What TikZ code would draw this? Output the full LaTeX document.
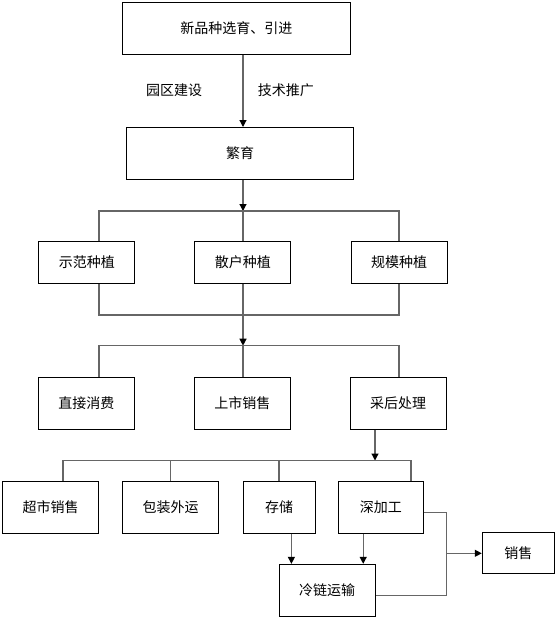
\documentclass[tikz,border=0pt]{standalone}
\usepackage{fontspec}
\setmainfont{Noto Sans CJK SC}
\usetikzlibrary{arrows.meta, positioning}

\begin{document}
\begin{tikzpicture}[
    x=1pt, y=-1pt,
    box/.style={draw, line width=1pt, align=center, inner sep=0pt, minimum width=96pt, minimum height=52pt, font=\fontsize{14pt}{16pt}\selectfont},
    note/.style={inner sep=0pt, font=\fontsize{14pt}{16pt}\selectfont},
    link/.style={draw=black!60, line width=1.2pt},
    flow/.style={link, -{Triangle[length=7pt, width=7pt, color=black]}}
]
\useasboundingbox (0,0) rectangle (559,621);

\node[box, minimum width=228pt] (sel) at (236.4,28.3) {新品种选育、引进};
\node[box, minimum width=226.6pt] (fanyu) at (240,153.5) {繁育};
\node[note] (yuanqu) at (174.2,90) {园区建设};
\node[note] (jishu) at (285.8,90) {技术推广};

\node[box, minimum height=42pt] (shifan) at (86.8,262.3) {示范种植};
\node[box, minimum height=42pt] (sanhu) at (242.8,262.3) {散户种植};
\node[box, minimum height=42pt] (guimo) at (399,262.3) {规模种植};

\node[box] (zhijie) at (86.3,403.3) {直接消费};
\node[box] (shangshi) at (242.3,403.3) {上市销售};
\node[box] (caihou) at (398.2,403.3) {采后处理};

\node[box] (chaoshi) at (50.7,507.3) {超市销售};
\node[box] (baozhuang) at (170.5,507.3) {包装外运};
\node[box, minimum width=72pt] (cunchu) at (279,507.3) {存储};
\node[box, minimum width=84.6pt] (shenjia) at (380.9,507.3) {深加工};
\node[box, minimum height=51.7pt] (lenglian) at (327,590.2) {冷链运输};
\node[box, minimum width=72pt, minimum height=41pt] (xiaoshou) at (518.3,553.3) {销售};

\coordinate (bus1l) at (99,211);
\coordinate (bus1) at (243,211);
\coordinate (bus1r) at (399,211);
\coordinate (bus2l) at (99,315);
\coordinate (bus2) at (243,315);
\coordinate (bus2r) at (399,315);
\coordinate (bus3l) at (99,345.7);
\coordinate (bus3) at (243,345.7);
\coordinate (bus3r) at (399,345.7);
\coordinate (bus4l) at (63,460.5);
\coordinate (bus4) at (375,460.5);
\coordinate (bus4r) at (411,460.5);
\coordinate (jn) at (446.7,553.3);

\draw[flow] (sel.south -| bus1) -- (fanyu.north -| bus1);

\draw[flow] (fanyu.south -| bus1) -- (bus1);
\draw[link] (shifan.north -| bus1l) |- (bus1r) -- (guimo.north -| bus1r);
\draw[link] (bus1) -- (sanhu.north -| bus1);

\draw[link] (shifan.south -| bus2l) |- (bus2r) -- (guimo.south -| bus2r);
\draw[flow] (sanhu.south -| bus2) -- (bus3);
\draw[link] (zhijie.north -| bus3l) |- (bus3r) -- (caihou.north -| bus3r);
\draw[link] (bus3) -- (shangshi.north -| bus3);

\draw[flow] (caihou.south -| bus4) -- (bus4);
\draw[link] (chaoshi.north -| bus4l) |- (bus4r) -- (shenjia.north -| bus4r);
\draw[link] (baozhuang.north) -- (baozhuang.north |- bus4);
\draw[link] (cunchu.north) -- (cunchu.north |- bus4);

\draw[flow] ([xshift=12.4pt]cunchu.south) -- ([xshift=12.4pt]cunchu.south |- lenglian.north);
\draw[flow] ([xshift=36.2pt]lenglian.north |- shenjia.south) -- ([xshift=36.2pt]lenglian.north);
\draw[link] ([yshift=-5pt]shenjia.east) -| (jn) |- ([yshift=-5pt]lenglian.east);
\draw[flow] (jn) -- (xiaoshou.west);

\end{tikzpicture}
\end{document}
